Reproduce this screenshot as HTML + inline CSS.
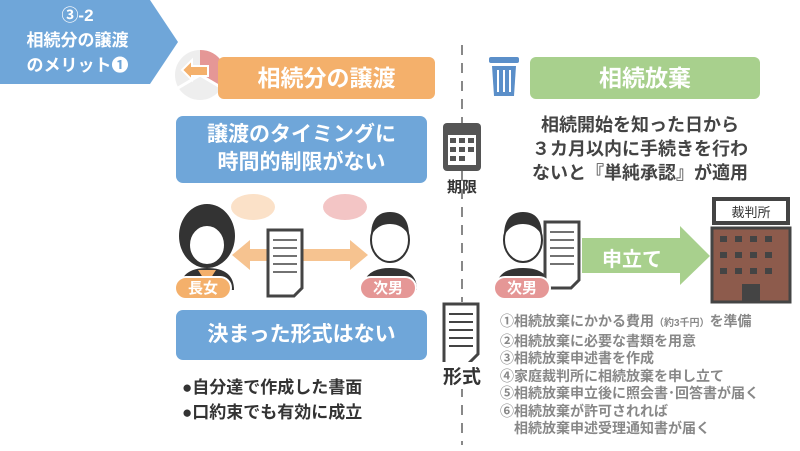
<!DOCTYPE html>
<html><head><meta charset="utf-8"><style>
body{margin:0;width:800px;height:451px;background:#fff;position:relative;overflow:hidden;font-family:"Liberation Sans","Noto Sans CJK JP",sans-serif;font-weight:bold}
.a{position:absolute}
.c{text-align:center}
</style></head><body>
<svg class="a" style="left:0;top:0" width="800" height="451">
<polygon points="0,0 150,0 178,42 150,84 0,84" fill="#6fa6d9"/>
<circle cx="200" cy="75" r="25" fill="#eee"/>
<path d="M200,75 L200,50 A25,25 0 0 1 222,88 Z" fill="#e59796"/>
<line x1="200" y1="75" x2="222" y2="88" stroke="#fff" stroke-width="3"/>
<line x1="200" y1="75" x2="178" y2="88" stroke="#fff" stroke-width="3"/>
<polygon points="182,70 192,60 192,66 208,66 208,76 192,76 192,80" fill="#f4b06b" stroke="#fff" stroke-width="2"/>
<rect x="218" y="57" width="217" height="42" rx="6" fill="#f4b06b"/>
<rect x="530" y="57" width="230" height="42" rx="6" fill="#a8d08d"/>
<rect x="489" y="57" width="30" height="6" rx="2" fill="#5b8fc9"/>
<path d="M492,66 h24 l-2,30 h-20 z" fill="#5b8fc9"/>
<g stroke="#fff" stroke-width="2"><line x1="498" y1="70" x2="498" y2="92"/><line x1="504" y1="70" x2="504" y2="92"/><line x1="510" y1="70" x2="510" y2="92"/></g>
<rect x="176" y="116" width="251" height="67" rx="7" fill="#6fa6d9"/>
<rect x="176" y="310" width="251" height="50" rx="7" fill="#6fa6d9"/>
<line x1="462" y1="45" x2="462" y2="445" stroke="#888" stroke-width="2" stroke-dasharray="10,8"/>
<rect x="443" y="123" width="38" height="48" rx="4" fill="#555"/>
<rect x="448" y="135" width="28" height="30" fill="#fff"/>
<g fill="#555"><rect x="450" y="138" width="6" height="5"/><rect x="459" y="138" width="6" height="5"/><rect x="468" y="138" width="6" height="5"/><rect x="450" y="147" width="6" height="5"/><rect x="459" y="147" width="6" height="5"/><rect x="468" y="147" width="6" height="5"/><rect x="450" y="156" width="6" height="5"/><rect x="459" y="156" width="6" height="5"/></g>
<rect x="440" y="302" width="44" height="70" fill="#fff"/>
<path d="M444,304 h34 v50 l-10,10 h-24 z" fill="#fff" stroke="#444" stroke-width="3"/>
<g stroke="#444" stroke-width="2"><line x1="449" y1="314" x2="473" y2="314"/><line x1="449" y1="322" x2="473" y2="322"/><line x1="449" y1="330" x2="473" y2="330"/><line x1="449" y1="338" x2="473" y2="338"/><line x1="449" y1="346" x2="473" y2="346"/></g>
<ellipse cx="253" cy="207" rx="22" ry="13" fill="#fbe1c8"/>
<ellipse cx="345" cy="207" rx="22" ry="13" fill="#f3c5c5"/>
<polygon points="232,255 250,240 250,249 350,249 350,240 368,255 350,270 350,261 250,261 250,270" fill="#f6c390"/>
<path d="M268,230 h34 v58 l-8,8 h-26 z" fill="#fff" stroke="#444" stroke-width="3"/>
<g stroke="#444" stroke-width="1.5"><line x1="273" y1="240" x2="297" y2="240"/><line x1="273" y1="248" x2="297" y2="248"/><line x1="273" y1="256" x2="297" y2="256"/><line x1="273" y1="264" x2="297" y2="264"/><line x1="273" y1="272" x2="297" y2="272"/></g>
<ellipse cx="207" cy="236" rx="28" ry="32" fill="#333"/><ellipse cx="207" cy="245" rx="18" ry="20" fill="#fff" stroke="#333" stroke-width="2"/>
<path d="M180,290 q0,-22 27,-22 q27,0 27,22 z" fill="#333"/><path d="M198,270 l9,14 l9,-14 z" fill="#f4b06b"/>
<ellipse cx="390" cy="240" rx="19" ry="22" fill="#fff" stroke="#333" stroke-width="2"/><path d="M371,236 q0,-24 19,-24 q19,0 19,24 q-6,-12 -19,-12 q-13,0 -19,12z" fill="#333"/>
<path d="M363,290 q0,-22 27,-22 q27,0 27,22 z" fill="#333"/>
<ellipse cx="523" cy="240" rx="19" ry="22" fill="#fff" stroke="#333" stroke-width="2"/><path d="M504,236 q0,-24 19,-24 q19,0 19,24 q-6,-12 -19,-12 q-13,0 -19,12z" fill="#333"/>
<path d="M496,290 q0,-22 27,-22 q27,0 27,22 z" fill="#333"/>
<path d="M545,222 h34 v58 l-8,8 h-26 z" fill="#fff" stroke="#444" stroke-width="3"/>
<g stroke="#444" stroke-width="1.5"><line x1="550" y1="232" x2="574" y2="232"/><line x1="550" y1="240" x2="574" y2="240"/><line x1="550" y1="248" x2="574" y2="248"/><line x1="550" y1="256" x2="574" y2="256"/><line x1="550" y1="264" x2="574" y2="264"/></g>
<polygon points="582,238 680,238 680,226 710,256 680,285 680,273 582,273" fill="#a8d08d"/>
<rect x="712" y="197" width="78" height="28" fill="#444"/><rect x="716" y="201" width="70" height="20" fill="#fff"/>
<rect x="712" y="228" width="78" height="74" fill="#8d5b4c" stroke="#444" stroke-width="3"/>
<g fill="#444"><rect x="720" y="236" width="7" height="6"/><rect x="735" y="236" width="7" height="6"/><rect x="750" y="236" width="7" height="6"/><rect x="765" y="236" width="7" height="6"/><rect x="720" y="252" width="7" height="6"/><rect x="735" y="252" width="7" height="6"/><rect x="750" y="252" width="7" height="6"/><rect x="765" y="252" width="7" height="6"/><rect x="720" y="268" width="7" height="6"/><rect x="735" y="268" width="7" height="6"/><rect x="750" y="268" width="7" height="6"/><rect x="765" y="268" width="7" height="6"/><rect x="742" y="284" width="18" height="18"/></g>
<rect x="175" y="277" width="56" height="22" rx="11" fill="#f4b06b" stroke="#fff" stroke-width="2"/>
<rect x="360" y="277" width="56" height="22" rx="11" fill="#e59796" stroke="#fff" stroke-width="2"/>
<rect x="494" y="277" width="56" height="22" rx="11" fill="#e59796" stroke="#fff" stroke-width="2"/>
</svg>
<div class="a c" style="left:0;top:3px;width:155px;color:#fff;font-size:17px;line-height:25px">③-2<br>相続分の譲渡<br>のメリット❶</div>
<div class="a c" style="left:218px;top:62px;width:217px;color:#fff;font-size:23px;line-height:32px">相続分の譲渡</div>
<div class="a c" style="left:530px;top:62px;width:230px;color:#fff;font-size:23px;line-height:32px">相続放棄</div>
<div class="a c" style="left:176px;top:121px;width:251px;color:#fff;font-size:21px;line-height:28px">譲渡のタイミングに<br>時間的制限がない</div>
<div class="a c" style="left:176px;top:320px;width:251px;color:#fff;font-size:21px;line-height:30px">決まった形式はない</div>
<div class="a c" style="left:490px;top:113px;width:300px;color:#444;font-size:18px;line-height:24px">相続開始を知った日から<br>３カ月以内に手続きを行わ<br>ないと『単純承認』が適用</div>
<div class="a c" style="left:430px;top:176px;width:64px;color:#333;font-size:15px">期限</div>
<div class="a c" style="left:430px;top:362px;width:64px;color:#333;font-size:19px;background:#fff">形式</div>
<div class="a c" style="left:175px;top:279px;width:56px;color:#fff;font-size:15px;line-height:20px">長女</div>
<div class="a c" style="left:360px;top:279px;width:56px;color:#fff;font-size:15px;line-height:20px">次男</div>
<div class="a c" style="left:494px;top:279px;width:56px;color:#fff;font-size:15px;line-height:20px">次男</div>
<div class="a c" style="left:582px;top:243px;width:100px;color:#fff;font-size:20px">申立て</div>
<div class="a c" style="left:716px;top:202px;width:70px;color:#333;font-size:13px;font-weight:normal">裁判所</div>
<div class="a" style="left:182px;top:375px;color:#333;font-size:17px;line-height:25px">●自分達で作成した書面<br>●口約束でも有効に成立</div>
<div class="a" style="left:500px;top:313px;color:#888;font-size:14px;line-height:17.5px">①相続放棄にかかる費用<span style="font-size:10px">（約3千円）</span>を準備<br>②相続放棄に必要な書類を用意<br>③相続放棄申述書を作成<br>④家庭裁判所に相続放棄を申し立て<br>⑤相続放棄申立後に照会書･回答書が届く<br>⑥相続放棄が許可されれば<br>　相続放棄申述受理通知書が届く</div>
</body></html>
